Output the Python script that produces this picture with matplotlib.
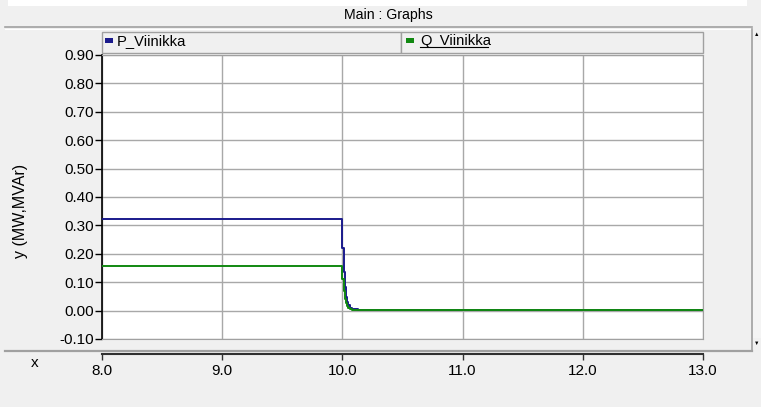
import numpy as np
import matplotlib
matplotlib.use("Agg")
import matplotlib.pyplot as plt
from matplotlib.patches import Rectangle
from matplotlib.lines import Line2D

plt.rcParams["font.family"] = ["Liberation Sans", "DejaVu Sans"]

# data
시간 = [8.0, 10.0, 10.01, 10.02, 10.03, 10.04, 10.05, 10.06, 10.08, 10.13, 13.0]
P_Viinikka = [0.322, 0.222, 0.135, 0.082, 0.048, 0.030, 0.018, 0.010, 0.004, 0.002, 0.002]
Q_Viinikka = [0.156, 0.110, 0.068, 0.040, 0.025, 0.015, 0.010, 0.006, 0.003, 0.002, 0.002]
y눈금 = np.round(np.arange(-0.10, 0.91, 0.10), 2)
x눈금 = [8.0, 9.0, 10.0, 11.0, 12.0, 13.0]

W, H = 761, 407
fig = plt.figure(figsize=(W / 100, H / 100), dpi=100, facecolor="#f0f0f0")


def 박스(x0, y0, x1, y1):
    # pixel box (top-left origin) -> figure fraction
    return [x0 / W, 1 - y1 / H, (x1 - x0) / W, (y1 - y0) / H]


def 선(x0, y0, x1, y1, color, lw=1.0):
    fig.add_artist(Line2D([x0 / W, x1 / W], [1 - y0 / H, 1 - y1 / H],
                          color=color, lw=lw, transform=fig.transFigure))


def 사각(x0, y0, x1, y1, fc, ec="none", lw=1.0):
    b = 박스(x0, y0, x1, y1)
    fig.add_artist(Rectangle((b[0], b[1]), b[2], b[3], facecolor=fc, edgecolor=ec,
                             lw=lw, transform=fig.transFigure))


# window decoration
사각(8, 0, 747, 6, "white")
선(5, 27, 752, 27, "#a0a0a0", 1.2)
선(5, 29, 752, 29, "#ffffff", 0.8)
fig.text(388 / W, 1 - 15 / H, "Main : Graphs", ha="center", va="center", fontsize=10.2)

# legend header boxes
사각(102, 32, 401, 53, "#f0f0f0", "#a0a0a0", 1.0)
사각(401, 32, 703, 53, "#f0f0f0", "#a0a0a0", 1.0)
사각(105, 38, 113, 43, "#1a1a8c")
fig.text(117 / W, 1 - 41 / H, "P_Viinikka", ha="left", va="center", fontsize=10.6)
사각(406, 38, 414, 43, "#118811")
fig.text(420 / W, 1 - 41 / H, "Q_Viinikka", ha="left", va="center", fontsize=10.6)
선(420, 47, 488, 47, "black", 0.8)

# scroll bar
선(752, 29, 752, 350, "#a0a0a0", 1.2)
사각(753, 40, 761, 338, "#f4f4f4")
fig.text(757 / W, 1 - 34 / H, "\u25b2", ha="center", va="center", fontsize=4)
fig.text(757 / W, 1 - 343 / H, "\u25bc", ha="center", va="center", fontsize=4)

# separator above x axis
선(5, 351, 752, 351, "#a0a0a0", 1.6)

# main plot
ax = fig.add_axes(박스(102, 55, 703, 339))
ax.set_facecolor("white")
ax.plot(시간, P_Viinikka, drawstyle="steps-post", color="#1a1a8c", lw=1.4, zorder=3)
ax.plot(시간, Q_Viinikka, drawstyle="steps-post", color="#118811", lw=1.4, zorder=4)
ax.set_xlim(8.0, 13.0)
ax.set_ylim(-0.10, 0.90)
ax.set_xticks(x눈금)
ax.set_yticks(y눈금)
ax.set_yticklabels([f"{v:.2f}" for v in y눈금], fontsize=11)
ax.tick_params(axis="x", length=0, labelbottom=False)
ax.tick_params(axis="y", length=5, width=1, direction="out", pad=1, color="black")
ax.grid(True, color="#a8a8a8", lw=1.0)
ax.set_axisbelow(True)
for s in ["top", "right", "bottom"]:
    ax.spines[s].set_color("#a0a0a0")
ax.spines["left"].set_color("black")
ax.spines["left"].set_linewidth(1.2)

fig.text(21 / W, 1 - 211 / H, "y (MW,MVAr)", rotation=90, ha="center", va="center", fontsize=11.5)

# x axis drawn separately below the plot
ax2 = fig.add_axes(박스(102, 353, 703, 354))
ax2.set_facecolor("none")
ax2.set_xlim(8.0, 13.0)
ax2.set_xticks(x눈금)
ax2.set_xticklabels([f"{v:.1f}" for v in x눈금], fontsize=11)
ax2.set_yticks([])
ax2.tick_params(axis="x", length=4, width=1, direction="out", pad=3, color="#303030")
for s in ["top", "left", "right"]:
    ax2.spines[s].set_visible(False)
ax2.spines["bottom"].set_color("#303030")
ax2.spines["bottom"].set_linewidth(1.5)
fig.text(35 / W, 1 - 363 / H, "x", ha="center", va="center", fontsize=11)

fig.savefig("out.png", dpi=100, facecolor=fig.get_facecolor())
